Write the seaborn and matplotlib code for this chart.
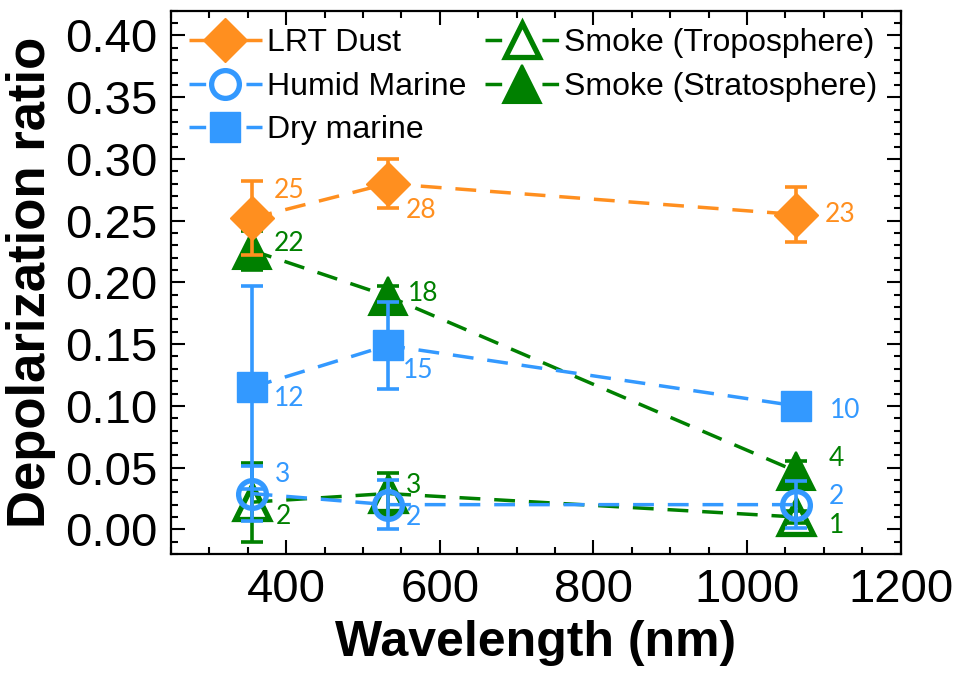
import numpy as np
import pandas as pd
import matplotlib
matplotlib.use("Agg")
import matplotlib.pyplot as plt
from matplotlib.lines import Line2D
from matplotlib.ticker import MultipleLocator
import seaborn as sns

# wavelengths (nm)
wavelength = [355, 532, 1064]

# depolarization ratio values and errors
lrt_dust = [0.252, 0.280, 0.255]
lrt_dust_err = [0.030, 0.020, 0.022]
lrt_dust_n = ["25", "28", "23"]

humid_marine = [0.029, 0.020, 0.020]
humid_marine_err = [0.022, 0.020, 0.019]
humid_marine_n = ["3", "2", "2"]

dry_marine = [0.115, 0.149, 0.100]
dry_marine_err = [0.082, 0.035, 0.004]
dry_marine_n = ["12", "15", "10"]

smoke_trop = [0.022, 0.029, 0.010]
smoke_trop_err = [0.032, 0.017, 0.005]
smoke_trop_n = ["2", "3", "1"]

smoke_strat = [0.226, 0.189, 0.047]
smoke_strat_err = [0.016, 0.008, 0.008]
smoke_strat_n = ["22", "18", "4"]

orange = "#FF8F1F"
blue = "#3399FF"
green = "#008000"

sns.set_theme(style="ticks")
plt.rcParams["font.family"] = ["Liberation Sans", "DejaVu Sans"]
plt.rcParams["text.color"] = "black"
plt.rcParams["axes.labelcolor"] = "black"
plt.rcParams["xtick.color"] = "black"
plt.rcParams["ytick.color"] = "black"

fig = plt.figure(figsize=(9.55, 6.74), dpi=100)
ax = fig.add_axes([0.179, 0.178, 0.764, 0.806])

series = [
    # name, values, errors, counts, color, marker, ms, mfc, mew, label offsets (pt)
    ("Smoke (Stratosphere)", smoke_strat, smoke_strat_err, smoke_strat_n, green, "^", 28, green, 1.5,
     [(27, 5), (26, 2), (29, 9)]),
    ("Smoke (Troposphere)", smoke_trop, smoke_trop_err, smoke_trop_n, green, "^", 25, "none", 3.8,
     [(23, -10), (19, 6), (29, -6)]),
    ("Dry marine", dry_marine, dry_marine_err, dry_marine_n, blue, "s", 22, blue, 1.0,
     [(27, -8), (22, -18), (35, -3)]),
    ("Humid Marine", humid_marine, humid_marine_err, humid_marine_n, blue, "o", 20, "none", 3.8,
     [(22, 14), (19, -9), (29, 6)]),
    ("LRT Dust", lrt_dust, lrt_dust_err, lrt_dust_n, orange, "D", 22, orange, 1.0,
     [(27, 20), (24, -19), (32, 0)]),
]

handles = {}
for name, vals, errs, counts, color, marker, ms, mfc, mew, offs in series:
    df = pd.DataFrame({"wl": wavelength, "dr": vals})
    ax.errorbar(wavelength, vals, yerr=errs, fmt="none", ecolor=color,
                elinewidth=2.6, capsize=8, capthick=2.6)
    sns.lineplot(data=df, x="wl", y="dr", ax=ax, color=color, marker=marker,
                 markersize=ms, markerfacecolor=mfc, markeredgecolor=color,
                 markeredgewidth=mew, linewidth=2.5, dashes=(6, 4), legend=False)
    # legend proxy: symmetric short dashes each side of the marker
    handles[name] = Line2D([], [], color=color, marker=marker, markersize=ms,
                           markerfacecolor="white" if mfc == "none" else mfc,
                           markeredgecolor=color, markeredgewidth=mew,
                           linewidth=2.5, dashes=(4.8, 3.4))
    for x, y, n, off in zip(wavelength, vals, counts, offs):
        ax.annotate(n, (x, y), xytext=off, textcoords="offset points",
                    ha="center", va="center", color=color, fontsize=19,
                    family=["Lato", "DejaVu Sans"])

ax.set_xlim(250, 1200)
ax.set_ylim(-0.02, 0.42)
ax.xaxis.set_major_locator(MultipleLocator(200))
ax.xaxis.set_minor_locator(MultipleLocator(50))
ax.yaxis.set_major_locator(MultipleLocator(0.05))
ax.yaxis.set_minor_locator(MultipleLocator(0.01))
ax.set_yticks(np.arange(0, 0.41, 0.05))
ax.set_yticklabels([f"{v:.2f}" for v in np.arange(0, 0.41, 0.05)])
ax.set_xticks([400, 600, 800, 1000, 1200])
ax.tick_params(which="both", direction="in", top=True, right=True, width=1.5, color="black")
ax.tick_params(which="major", length=10, labelsize=34, pad=10, labelcolor="black")
ax.tick_params(which="minor", length=5)
for s in ax.spines.values():
    s.set_linewidth(1.6)
    s.set_color("black")

ax.set_xlabel("Wavelength (nm)", fontsize=36, fontweight="bold", labelpad=6, color="black")
ax.set_ylabel("Depolarization ratio", fontsize=38, fontweight="bold", labelpad=6, color="black")

order = ["LRT Dust", "Humid Marine", "Dry marine", "Smoke (Troposphere)", "Smoke (Stratosphere)"]
leg = ax.legend([handles[k] for k in order], order, loc="upper left", ncol=2, frameon=False,
                fontsize=23, handlelength=2.3, handletextpad=0.15, columnspacing=0.6,
                labelspacing=0.42, borderaxespad=0.15, markerscale=1.0)
for t in leg.get_texts():
    t.set_color("black")

fig.savefig("out.png", dpi=100)
